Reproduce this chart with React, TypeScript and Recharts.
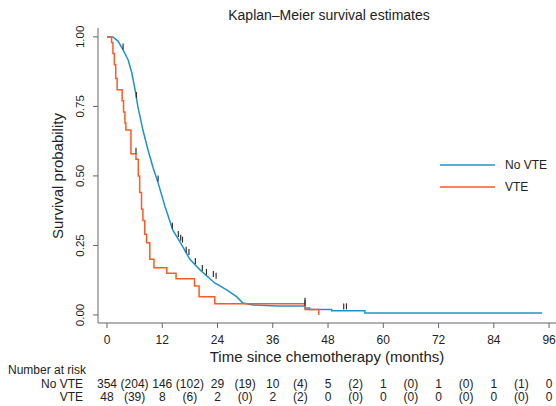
import { ComposedChart, Line, Scatter, XAxis, YAxis } from "recharts";

const FONT = '"Liberation Sans", Arial, sans-serif';
const BLUE = "#1f93c8";
const ORANGE = "#fc5a26";
const AXIS = "#666666";
const TEXT = "#222222";

// months since chemotherapy, survival probability
const noVteMonths = [0, 1.3, 2.4, 3.5, 4.6, 5.4, 6.1, 6.7, 7.8, 8.9, 10, 11.1, 12.6, 14.3, 16.3, 18, 20.2, 23.4, 26, 28.2, 29.5, 31.7, 37, 43, 43, 44, 44, 48.8, 48.8, 56, 56, 94.5];
const noVteSurv = [1, 1, 0.985, 0.953, 0.917, 0.87, 0.81, 0.75, 0.665, 0.594, 0.53, 0.475, 0.39, 0.305, 0.25, 0.2, 0.162, 0.115, 0.09, 0.065, 0.043, 0.036, 0.032, 0.032, 0.025, 0.025, 0.02, 0.02, 0.015, 0.015, 0.007, 0.007];

const vteMonths = [0, 1.0, 1.3, 1.6, 1.9, 2.2, 3.3, 3.6, 3.9, 4.1, 5.2, 6.3, 6.8, 7.1, 7.5, 7.8, 8.2, 8.6, 9.3, 10.2, 13, 15, 19, 20, 23.4, 43, 46];
const vteSurv = [1, 0.98, 0.94, 0.9, 0.85, 0.81, 0.77, 0.73, 0.69, 0.665, 0.58, 0.56, 0.5, 0.44, 0.38, 0.34, 0.29, 0.26, 0.2, 0.17, 0.15, 0.13, 0.104, 0.065, 0.04, 0.02, 0];

// censoring marks
const noVteCensMonths = [3.5, 6.4, 11.1, 14.2, 15.5, 16, 16.4, 17.2, 17.8, 19.2, 20.7, 21.6, 23.1, 23.7, 43, 51.4, 52];
const noVteCensSurv = [0.955, 0.78, 0.48, 0.31, 0.28, 0.267, 0.26, 0.224, 0.216, 0.183, 0.158, 0.144, 0.136, 0.13, 0.032, 0.02, 0.02];
const vteCensMonths = [6.3, 43];
const vteCensSurv = [0.58, 0.04];

const yTicks = [0, 0.25, 0.5, 0.75, 1];
const riskMonths = [0, 6, 12, 18, 24, 30, 36, 42, 48, 54, 60, 66, 72, 78, 84, 90, 96];
const riskNoVte = ["354", "(204)", "146", "(102)", "29", "(19)", "10", "(4)", "5", "(2)", "1", "(0)", "1", "(0)", "1", "(1)", "0"];
const riskVte = ["48", "(39)", "8", "(6)", "2", "(0)", "2", "(2)", "0", "(0)", "0", "(0)", "0", "(0)", "0", "(0)", "0"];

const toPoints = (t: number[], s: number[]) => t.map((v, i) => ({ t: v, s: s[i] }));
const noVteData = toPoints(noVteMonths, noVteSurv);
const vteData = toPoints(vteMonths, vteSurv);
const noVteCens = toPoints(noVteCensMonths, noVteCensSurv);
const vteCens = toPoints(vteCensMonths, vteCensSurv);

const CensorTick = (props: any) => {
  const { cx, cy } = props;
  if (cx == null || cy == null) return null;
  return <line x1={cx} x2={cx} y1={cy - 6} y2={cy} stroke="#333" strokeWidth={1.2} />;
};

const YTick = (props: any) => {
  const { x, y, payload } = props;
  const cx = x - 11;
  return (
    <text
      x={cx}
      y={y}
      transform={`rotate(-90 ${cx} ${y})`}
      textAnchor="middle"
      dominantBaseline="central"
      fontSize={11.5}
      fontFamily={FONT}
      fill={TEXT}
    >
      {payload.value.toFixed(2)}
    </text>
  );
};

// x ticks every 12 months, plus the number-at-risk table every 6 months
const XTick = (props: any) => {
  const { x, y, payload } = props;
  const i = riskMonths.indexOf(payload.value);
  const major = payload.value % 12 === 0;
  const common = { textAnchor: "middle" as const, dominantBaseline: "central" as const, fontSize: 12, fontFamily: FONT, fill: TEXT };
  return (
    <g>
      {major && <line x1={x} x2={x} y1={y} y2={y + 5} stroke={AXIS} />}
      {major && <text x={x} y={y + 17} {...common}>{payload.value}</text>}
      <text x={x} y={y + 61} {...common}>{riskNoVte[i]}</text>
      <text x={x} y={y + 74} {...common}>{riskVte[i]}</text>
    </g>
  );
};

const textStyle = { position: "absolute" as const, fontFamily: FONT, color: TEXT, whiteSpace: "nowrap" as const, lineHeight: 1 };

export default function App() {
  return (
    <div style={{ position: "absolute", left: 0, top: 0, width: 556, height: 406, background: "#fff" }}>
      <ComposedChart width={556} height={406} margin={{ top: 28, right: 0, left: 0, bottom: 0 }}>
        <XAxis
          dataKey="t"
          type="number"
          domain={[-1.95, 97.5]}
          ticks={riskMonths}
          interval={0}
          allowDataOverflow
          height={83}
          tickLine={false}
          tickSize={0}
          tickMargin={0}
          stroke={AXIS}
          tick={<XTick />}
          label={{ value: "Time since chemotherapy (months)", position: "insideTop", offset: 28, fontSize: 15, fontFamily: FONT, fill: TEXT }}
        />
        <YAxis
          dataKey="s"
          type="number"
          domain={[-0.029, 1.032]}
          ticks={yTicks}
          interval={0}
          allowDataOverflow
          width={98}
          tickSize={5}
          stroke={AXIS}
          tick={<YTick />}
        />
        <Line data={noVteData} dataKey="s" name="No VTE" type="linear" stroke={BLUE} strokeWidth={1.5} dot={false} isAnimationActive={false} />
        <Line data={vteData} dataKey="s" name="VTE" type="stepAfter" stroke={ORANGE} strokeWidth={1.5} dot={false} isAnimationActive={false} />
        <Scatter data={noVteCens} dataKey="s" shape={CensorTick} isAnimationActive={false} />
        <Scatter data={vteCens} dataKey="s" shape={CensorTick} isAnimationActive={false} />
      </ComposedChart>
      <div style={{ ...textStyle, left: 0, width: 556, top: 8, fontSize: 14 }}>
        <div style={{ position: "absolute", left: 329, transform: "translateX(-50%)" }}>Kaplan–Meier survival estimates</div>
      </div>
      <div style={{ ...textStyle, left: 57, top: 176, fontSize: 15, transform: "translate(-50%, -50%) rotate(-90deg)" }}>
        Survival probability
      </div>
      <svg width={110} height={40} style={{ position: "absolute", left: 440, top: 155 }}>
        <line x1={0} x2={55} y1={10} y2={10} stroke={BLUE} strokeWidth={1.5} />
        <text x={65} y={10} dominantBaseline="central" fontSize={12} fontFamily={FONT} fill={TEXT}>No VTE</text>
        <line x1={0} x2={55} y1={32} y2={32} stroke={ORANGE} strokeWidth={1.5} />
        <text x={65} y={32} dominantBaseline="central" fontSize={12} fontFamily={FONT} fill={TEXT}>VTE</text>
      </svg>
      <div style={{ ...textStyle, left: 8, top: 364, fontSize: 12 }}>Number at risk</div>
      <div style={{ ...textStyle, right: 556 - 83, top: 378, fontSize: 12 }}>No VTE</div>
      <div style={{ ...textStyle, right: 556 - 83, top: 391, fontSize: 12 }}>VTE</div>
    </div>
  );
}
